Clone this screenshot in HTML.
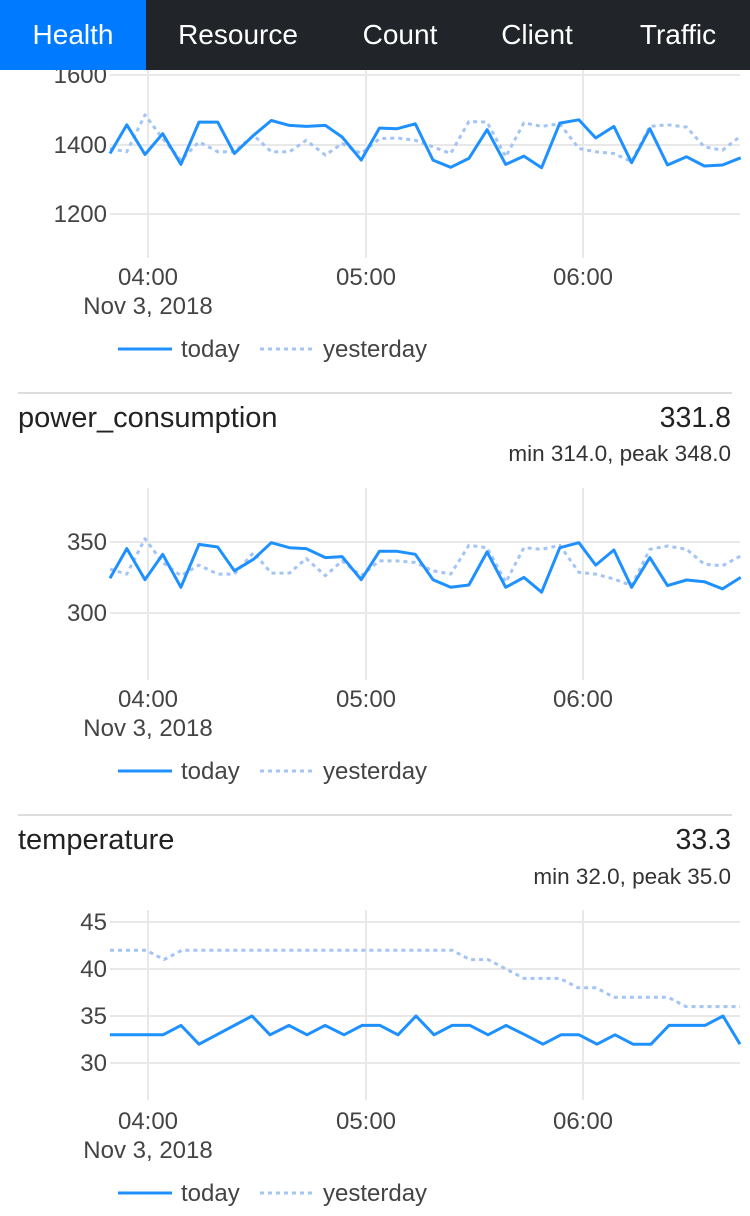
<!DOCTYPE html>
<html><head><meta charset="utf-8"><style>
body{margin:0;width:750px;height:1216px;overflow:hidden;background:#fff;font-family:"Liberation Sans",sans-serif;}
#nav{position:absolute;left:0;top:0;width:750px;height:70px;background:#212529;z-index:2}
#nav div{position:absolute;top:0;height:70px;line-height:70px;color:#fff;font-size:28px;transform:translateX(-50%)}
svg{position:absolute;left:0;top:0}
svg text{font-family:"Liberation Sans",sans-serif;}
</style></head><body>
<div id="nav"><div style="left:0;width:146px;transform:none;background:#007bff;text-align:center">Health</div>
<div style="left:238px">Resource</div><div style="left:400px">Count</div><div style="left:537px">Client</div><div style="left:678px">Traffic</div></div>
<svg id="s" width="750" height="1216"></svg>
<script>
var s=document.getElementById('s'),h='';
function ln(x1,y1,x2,y2,c,w,d){h+='<line x1="'+x1+'" y1="'+y1+'" x2="'+x2+'" y2="'+y2+'" stroke="'+c+'" stroke-width="'+w+'"'+(d?' stroke-dasharray="'+d+'"':'')+'/>';}
function tx(x,y,t,sz,c,a){h+='<text x="'+x+'" y="'+y+'" font-size="'+sz+'" fill="'+c+'" text-anchor="'+(a||'start')+'">'+t+'</text>';}
function pl(p,c,w,d){h+='<polyline fill="none" points="'+p.join(' ')+'" stroke="'+c+'" stroke-width="'+w+'" stroke-linejoin="round"'+(d?' stroke-dasharray="'+d+'"':'')+'/>';}
function conv(z,oy){var r=[];for(var i=0;i<z.length;i+=2)r.push((z[i]/2.09).toFixed(1)+','+(oy+z[i+1]/3.03).toFixed(1));return r;}
function chart(gt,gb,ticks,ax){
 [148,366,583].forEach(function(x){ln(x,gt,x,gb,'#e8e8e8',2);});
 ticks.forEach(function(t){ln(110,t[1],740,t[1],'#e8e8e8',2);tx(107,t[1]+8,t[0],24,'#444','end');});
 tx(148,ax,'04:00',24,'#444','middle');tx(366,ax,'05:00',24,'#444','middle');tx(583,ax,'06:00',24,'#444','middle');
 tx(148,ax+29,'Nov 3, 2018',24,'#444','middle');
 ln(118,ax+64,172,ax+64,'#1e90ff',3);tx(181,ax+72,'today',24,'#444');
 ln(260,ax+64,314,ax+64,'#a4c4f4',3,'4,4');tx(323,ax+72,'yesterday',24,'#444');
}
chart(70,258,[['1600',75],['1400',145],['1200',214]],285);
chart(488,680,[['350',542],['300',613]],707);
chart(910,1100,[['45',922],['40',969],['35',1016],['30',1063]],1129);
var xs=[230,265,303,340,378,416,455,490,530,567,605,640,680,715,755,793,830,868,905,942,980,1018,1057,1095,1132,1170,1210,1245,1283,1320,1358,1395,1435,1472,1510,1548];
function zz(ys){var r=[];xs.forEach(function(x,i){r.push(x,ys[i]);});return r;}
var c1y=[450,460,348,420,485,430,460,460,410,460,460,425,470,435,465,420,418,425,445,465,368,370,475,372,383,375,450,460,465,490,383,378,385,445,455,412];
var c1t=[465,378,468,405,498,370,370,465,410,365,380,383,380,415,485,388,390,375,485,507,480,393,498,473,508,373,363,418,383,493,390,500,475,503,500,478];
var c2y=[270,285,178,250,290,258,285,285,220,282,282,238,290,245,290,245,245,250,275,285,198,205,310,205,210,198,280,285,300,320,210,200,210,255,260,230];
var c2t=[298,208,302,225,325,195,203,275,240,190,205,208,235,232,302,216,216,225,302,325,318,218,325,295,340,205,190,258,212,325,235,320,303,308,330,295];
pl(conv(zz(c1y),0),'#a4c4f4',3,'4,4');pl(conv(zz(c1t),0),'#1e90ff',3);
pl(conv(zz(c2y),480),'#a4c4f4',3,'4,4');pl(conv(zz(c2t),480),'#1e90ff',3);
function ty(v){return (1063-(v-30)*9.4).toFixed(1);}
var tt=[[110,33],[163,33],[181,34],[199,32],[252,35],[270,33],[289,34],[307,33],[325,34],[344,33],[362,34],[380,34],[398,33],[416,35],[434,33],[452,34],[470,34],[488,33],[506,34],[525,33],[543,32],[561,33],[579,33],[597,32],[615,33],[633,32],[651,32],[669,34],[705,34],[723,35],[740,32]];
var yy=[[110,42],[146,42],[164,41],[182,42],[452,42],[470,41],[488,41],[506,40],[524,39],[560,39],[578,38],[596,38],[614,37],[668,37],[686,36],[740,36]];
pl(yy.map(function(p){return p[0]+','+ty(p[1]);}),'#a4c4f4',3,'4,4');
pl(tt.map(function(p){return p[0]+','+ty(p[1]);}),'#1e90ff',3);
ln(18,393,732,393,'#ddd',2);ln(18,815,732,815,'#ddd',2);
tx(18,427,'power_consumption',29,'#222');tx(731,427,'331.8',28.5,'#222','end');tx(731,461,'min 314.0, peak 348.0',22.5,'#333','end');
tx(18,849,'temperature',29,'#222');tx(731,849,'33.3',28.5,'#222','end');tx(731,884,'min 32.0, peak 35.0',22.5,'#333','end');
s.innerHTML=h;
</script>
</body></html>
